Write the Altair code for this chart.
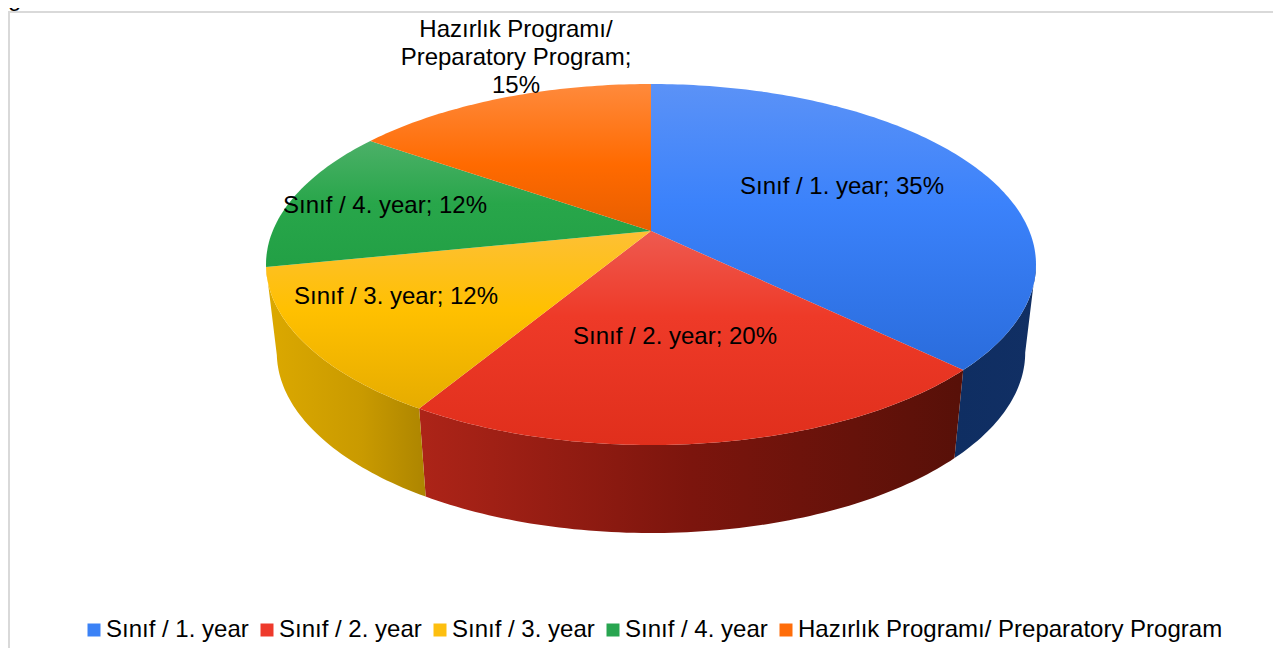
import math
import altair as alt
import pandas as pd

# ---- data ----
categories = ["Sınıf / 1. year", "Sınıf / 2. year", "Sınıf / 3. year", "Sınıf / 4. year",
              "Hazırlık Programı/ Preparatory Program"]
values = [35, 20.1, 12.4, 12.1, 14.4]
slice_labels = ["Sınıf / 1. year; 35%", "Sınıf / 2. year; 20%", "Sınıf / 3. year; 12%",
                "Sınıf / 4. year; 12%", "Hazırlık Programı/\nPreparatory Program;\n15%"]
cut_off_title = "graduate students."

# ---- layout and style ----
W, H = 1265, 640
OX, OY = 8, 8
CX, CY = 651 - OX, 231 - OY
A, B, K = 174.3, 378.3, 0.1856   # projected disc: height, width, perspective
DEPTH, SHRINK = 88, 0.972
FONT = "Liberation Sans"
FS = 24
label_x = [842, 675, 396, 385, 516]
label_y = [187, 337, 297, 206, 30]
legend_colors = ["#3b82f6", "#ee3a2c", "#fdbf0f", "#28a550", "#ff6d0a"]
top_stops = [
    [("#5b92f7", 0), ("#3b82fb", 0.42), ("#2a6cdc", 1)],
    [("#ee5a50", 0), ("#ee3a28", 0.4), ("#e02f1c", 1)],
    [("#fdc035", 0), ("#ffc000", 0.45), ("#e6ac00", 1)],
    [("#4cb068", 0), ("#28a64a", 0.5), ("#22a045", 1)],
    [("#ff8a3c", 0), ("#ff6a00", 0.55), ("#e85e00", 1)],
]
wall_stops = [
    [("#0f2e62", 0), ("#112f64", 1)],
    [("#ad2418", 0), ("#7c150d", 0.5), ("#571008", 1)],
    [("#dca900", 0), ("#c99a00", 0.6), ("#ad8500", 1)],
]
EXTREME_R = math.acos(-K)
EXTREME_L = 2 * math.pi - EXTREME_R


def rim(t):
    u, v = math.sin(t), math.cos(t)
    w = 1 + K * v
    return CX + B * u / w, CY - A * v / w


def lower(p):
    return CX + (p[0] - CX) * SHRINK, p[1] + DEPTH


def arc(a, b):
    n = max(2, int(abs(b - a) * 60))
    return [rim(a + (b - a) * i / n) for i in range(n + 1)]


def feature(points):
    ring = [list(p) for p in points]
    ring.append(ring[0])
    return {"type": "Feature", "properties": {},
            "geometry": {"type": "Polygon", "coordinates": [ring]}}


def gradient(stops, horizontal=False):
    return alt.LinearGradient(
        gradient="linear",
        stops=[alt.GradientStop(color=c, offset=o) for c, o in stops],
        x1=0, y1=0, x2=1 if horizontal else 0, y2=0 if horizontal else 1,
    )


total = sum(values)
edges = [0]
for v in values:
    edges.append(edges[-1] + v / total * 2 * math.pi)


def shape(points, fill):
    return alt.Chart(alt.InlineData(values=[feature(points)])).mark_geoshape(
        fill=fill, strokeWidth=0, stroke="transparent"
    ).project(type="identity", scale=1, translate=[0, 0])


# legend carrier, tucked under the disc
table = pd.DataFrame({
    "category": categories,
    "label": slice_labels,
    "px": [x - OX for x in label_x],
    "py": [y - OY for y in label_y],
    "cx": [CX] * 5,
    "cy": [CY] * 5,
})
legend_layer = alt.Chart(table).mark_square(size=1).encode(
    x=alt.X("cx:Q", scale=None, axis=None),
    y=alt.Y("cy:Q", scale=None, axis=None),
    color=alt.Color(
        "category:N",
        scale=alt.Scale(domain=categories, range=legend_colors),
        sort=None,
        legend=alt.Legend(
            orient="none", legendX=74, legendY=610, direction="horizontal", columns=5,
            title=None, symbolType="square", symbolSize=169, symbolStrokeWidth=0,
            labelFont=FONT, labelFontSize=FS, labelColor="#000000", labelLimit=600,
            labelOffset=0, columnPadding=6, padding=0, symbolOpacity=1,
        ),
    ),
)

layers = [legend_layer]

# side walls, drawn only on the visible front of the rim
wall_ranges = [
    (EXTREME_R, edges[1]),
    (edges[1], edges[2]),
    (edges[2], min(edges[3], EXTREME_L)),
]
for (a, b), stops in zip(wall_ranges, wall_stops):
    top = arc(a, b)
    layers.append(shape(top + [lower(p) for p in reversed(top)], gradient(stops, True)))

# top face slices
for i, stops in enumerate(top_stops):
    layers.append(shape([(CX, CY)] + arc(edges[i], edges[i + 1]), gradient(stops)))

# frame
frame = pd.DataFrame({"x": [0, 1], "x2": [W, 1], "y": [4, 4], "y2": [4, H]})
frame_layer = alt.Chart(frame).mark_rule(color="#d9d9d9", strokeWidth=2).encode(
    x=alt.X("x:Q", scale=None, axis=None),
    x2="x2:Q",
    y=alt.Y("y:Q", scale=None, axis=None),
    y2="y2:Q",
)
layers.append(frame_layer)

# labels
text_layer = alt.Chart(table).mark_text(
    font=FONT, fontSize=FS, color="#000000", align="center", baseline="middle",
    lineBreak="\n", lineHeight=28,
).encode(
    x=alt.X("px:Q", scale=None, axis=None),
    y=alt.Y("py:Q", scale=None, axis=None),
    text="label:N",
)
layers.append(text_layer)

# sentence of the page above the chart, cut by the top edge as in the reference
title_layer = alt.Chart(pd.DataFrame({"t": [cut_off_title], "x": [0], "y": [-2]})).mark_text(
    font=FONT, fontSize=FS, color="#000000", align="left", baseline="alphabetic",
).encode(
    x=alt.X("x:Q", scale=None, axis=None),
    y=alt.Y("y:Q", scale=None, axis=None),
    text="t:N",
)
layers.append(title_layer)

chart = alt.layer(*layers).properties(
    width=W, height=H, padding=0, autosize=alt.AutoSizeParams(type="none"),
    background="white",
).configure_view(stroke=None)

chart.save("out.html", embed_options={"renderer": "svg", "actions": False})
